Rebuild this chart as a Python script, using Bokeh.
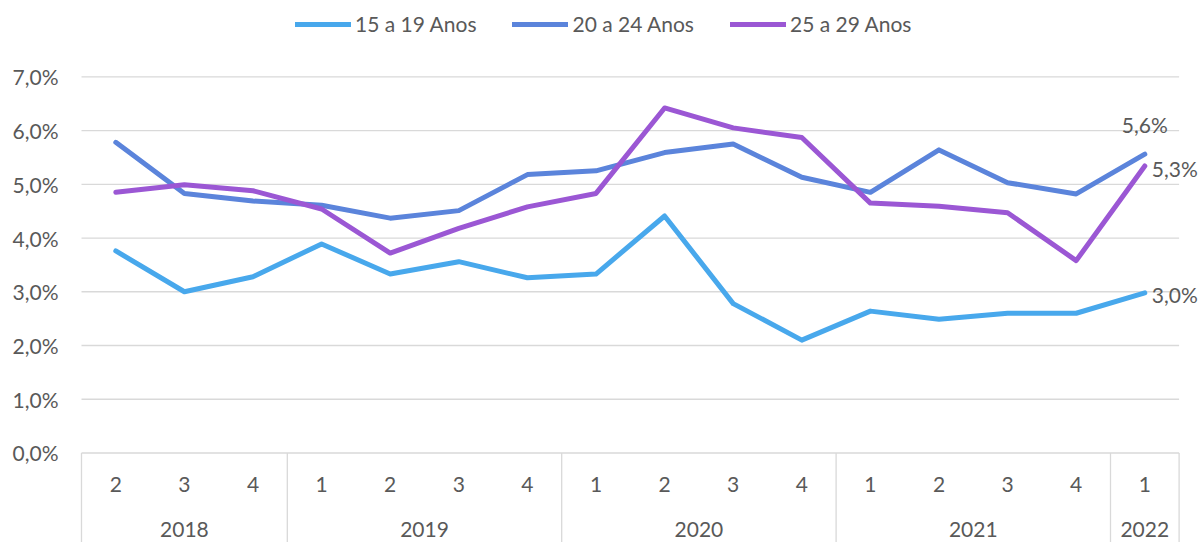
from bokeh.plotting import figure
from bokeh.models import Range1d, FixedTicker, CustomJSTickFormatter, Legend, LegendItem
from bokeh.core.properties import value
from bokeh.embed import file_html
from bokeh.resources import INLINE

# ---- data ----
years = ["2018"] * 3 + ["2019"] * 4 + ["2020"] * 4 + ["2021"] * 4 + ["2022"]
quarters = ["2", "3", "4", "1", "2", "3", "4", "1", "2", "3", "4", "1", "2", "3", "4", "1"]
s_15_19 = [3.76, 3.00, 3.28, 3.89, 3.33, 3.56, 3.26, 3.33, 4.41, 2.78, 2.10, 2.64, 2.49, 2.60, 2.60, 2.98]
s_20_24 = [5.78, 4.83, 4.69, 4.61, 4.37, 4.51, 5.18, 5.25, 5.59, 5.75, 5.13, 4.85, 5.64, 5.03, 4.82, 5.56]
s_25_29 = [4.85, 4.99, 4.88, 4.54, 3.72, 4.18, 4.58, 4.83, 6.42, 6.05, 5.87, 4.65, 4.59, 4.47, 3.58, 5.34]
series_names = ["15 a 19 Anos", "20 a 24 Anos", "25 a 29 Anos"]
y_ticks = [0, 1, 2, 3, 4, 5, 6, 7]

# ---- style ----
colors = ["#48A8EC", "#5B84DB", "#9B57D4"]
FONT = "Lato"
TXT = "#595959"
GRIDC = "#D9D9D9"
FS = "21px"

n = len(quarters)
xs = list(range(n))

W, H = 1201, 542
left_border = 79
px_per_x = 68.6
x0 = -0.5 - 2 / px_per_x
x1 = x0 + (W - left_border) / px_per_x
px_per_y = 53.74
y_top = 7 + 76.3 / px_per_y
y_bot = -(H - 452.5) / px_per_y

p = figure(width=W, height=H, output_backend="svg", toolbar_location=None,
           x_range=Range1d(x0, x1), y_range=Range1d(y_bot, y_top),
           x_axis_location=None, y_axis_location="left",
           min_border_left=left_border, min_border_right=0,
           min_border_top=0, min_border_bottom=0)
p.outline_line_color = None
p.xgrid.visible = False
p.ygrid.visible = False
p.background_fill_color = "white"
p.border_fill_color = "white"

ax = p.yaxis[0]
ax.ticker = FixedTicker(ticks=y_ticks)
ax.formatter = CustomJSTickFormatter(code="return tick.toFixed(1).replace('.', ',') + '%';")
ax.axis_line_color = None
ax.major_tick_line_color = None
ax.minor_tick_line_color = None
ax.major_tick_in = 0
ax.major_tick_out = 0
ax.major_label_standoff = 21
ax.major_label_text_font = FONT
ax.major_label_text_font_size = FS
ax.major_label_text_color = TXT

# grid lines (limited to category area)
gy = [t for t in y_ticks]
p.segment(x0=[-0.5] * len(gy), y0=gy, x1=[n - 0.5] * len(gy), y1=gy,
          line_color=GRIDC, line_width=1.3)

# year group separators
bounds = [-0.5] + [i - 0.5 for i in range(1, n) if years[i] != years[i - 1]] + [n - 0.5]
p.segment(x0=bounds, y0=[0] * len(bounds), x1=bounds, y1=[y_bot - 1] * len(bounds),
          line_color=GRIDC, line_width=1.3)

# category labels
q_y = -(484.3 - 452.5) / px_per_y
yr_y = -(529 - 452.5) / px_per_y
p.text(x=xs, y=[q_y] * n, text=quarters, text_font=value(FONT), text_font_size=FS,
       text_color=TXT, text_align="center", text_baseline="middle")
uniq = []
for y in years:
    if y not in uniq:
        uniq.append(y)
centers = [sum(i for i in xs if years[i] == u) / years.count(u) for u in uniq]
p.text(x=centers, y=[yr_y] * len(uniq), text=uniq, text_font=value(FONT), text_font_size=FS,
       text_color=TXT, text_align="center", text_baseline="middle")

# lines
items = []
for name, vals, c in zip(series_names, [s_15_19, s_20_24, s_25_29], colors):
    r = p.line(xs, vals, line_color=c, line_width=5, line_cap="round", line_join="round")
    items.append(LegendItem(label=name, renderers=[r]))

# end labels
def fmt(v):
    return f"{v:.1f}".replace(".", ",") + "%"

p.text(x=[n - 1], y=[s_20_24[-1]], text=[fmt(s_20_24[-1])], text_font=value(FONT),
       text_font_size=FS, text_color=TXT, text_align="center", text_baseline="middle", y_offset=-30)
p.text(x=[n - 1, n - 1], y=[s_25_29[-1], s_15_19[-1]], text=[fmt(s_25_29[-1]), fmt(s_15_19[-1])],
       text_font=value(FONT), text_font_size=FS, text_color=TXT, text_align="left",
       text_baseline="middle", x_offset=7, y_offset=2)

legend = Legend(items=items, orientation="horizontal", location=(295 - left_border, H - 36),
                glyph_width=56, glyph_height=24, label_height=24, label_standoff=4,
                spacing=36, padding=0, margin=0, border_line_color=None,
                background_fill_alpha=0, label_text_font=FONT, label_text_font_size=FS,
                label_text_color=TXT)
p.add_layout(legend)

open("out.html", "w").write(file_html(p, INLINE))
